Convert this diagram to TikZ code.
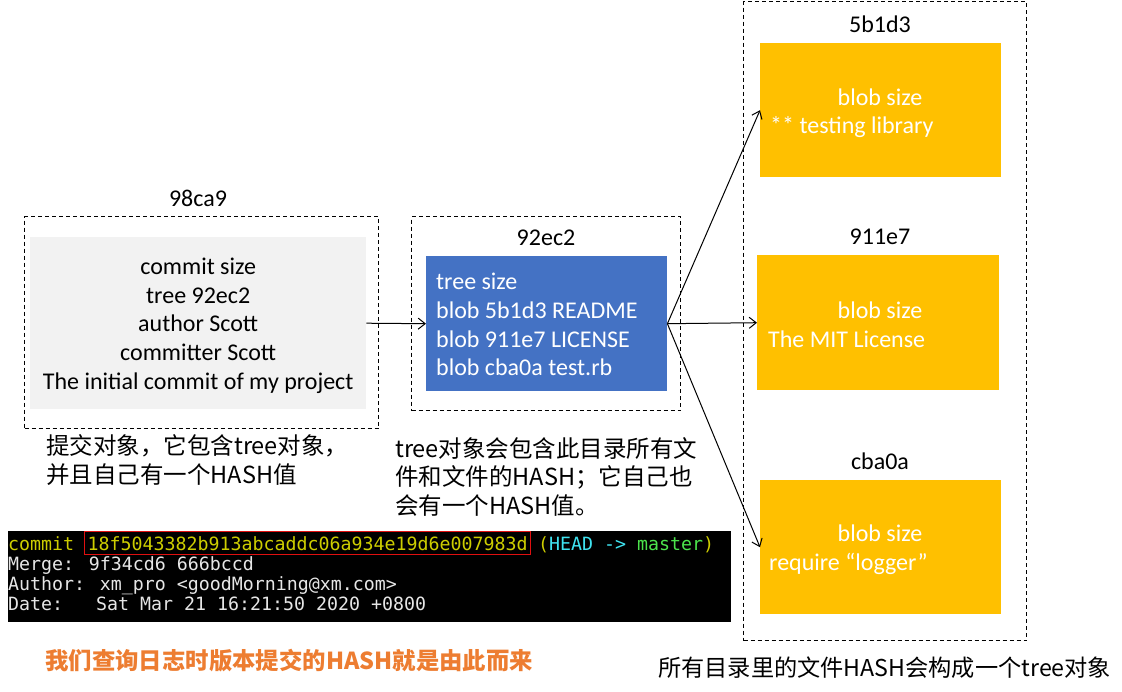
\documentclass[tikz,border=0pt]{standalone}
\usepackage{fontspec}
\setmainfont{Carlito}
\newfontfamily\cjk{Noto Sans CJK SC}
\newfontfamily\term{DejaVu Sans Mono}
\usetikzlibrary{arrows.meta}
\definecolor{grayfill}{HTML}{F2F2F2}
\definecolor{bluefill}{HTML}{4472C4}
\definecolor{yellowfill}{HTML}{FFC000}
\definecolor{orangetxt}{HTML}{ED7D31}
\definecolor{tyellow}{HTML}{CDCD00}
\definecolor{tcyan}{HTML}{3FE3F0}
\definecolor{tgreen}{HTML}{4CE34C}
\definecolor{twhite}{HTML}{E6E6E6}
\definecolor{tred}{HTML}{E01010}
\tikzset{
  dashbox/.style={draw=black, line width=1pt, dash pattern=on 4pt off 3pt, inner sep=0pt, anchor=north west},
  fillbox/.style={inner sep=0pt, anchor=north west},
  lbl/.style={font=\fontsize{24}{29}\selectfont, inner sep=0pt},
  boxtext/.style={font=\fontsize{24}{28.75}\selectfont},
  ytext/.style={font=\fontsize{24}{29}\selectfont, text=white, inner sep=0pt},
  arr/.style={draw=black, line width=1pt, -{Straight Barb[length=7pt,width=11pt]}},
  cn/.style={font=\cjk\fontsize{23.5}{29}\selectfont, inner sep=0pt, align=left, anchor=west},
  termline/.style={font=\term\fontsize{18.27}{20}\selectfont, text=twhite, inner sep=0pt, anchor=base west},
}
\begin{document}
\begin{tikzpicture}[x=1pt,y=-1pt]
\useasboundingbox (0,0) rectangle (1122,691);

% dashed frames
\node[dashbox, minimum width=354pt, minimum height=212pt] (frameA) at (24,216) {};
\node[dashbox, minimum width=269pt, minimum height=194pt] (frameB) at (411,216) {};
\node[dashbox, minimum width=283pt, minimum height=639pt] (frameC) at (743,1) {};

% labels
\node[lbl] (l98) at (198,198) {98ca9};
\node[lbl] (l92) at (546,238) {92ec2};
\node[lbl] (l5b) at (880,24) {5b1d3};
\node[lbl] (l91) at (880,237) {911e7};
\node[lbl] (lcb) at (880,461) {cba0a};

% commit object
\node[fillbox, fill=grayfill, minimum width=336pt, minimum height=172pt] (commitbox) at (30,237) {};
\node[boxtext, align=center, inner sep=0pt] (committxt) at ([yshift=-2.5pt]commitbox.center)
  {commit size\\tree 92ec2\\author Scott\\committer Scott\\The initial commit of my project};

% tree object
\node[fillbox, fill=bluefill, minimum width=241pt, minimum height=135pt] (treebox) at (426,256) {};
\node[boxtext, text=white, align=left, anchor=west, inner sep=0pt] (treetxt) at ([xshift=10pt,yshift=-1pt]treebox.west)
  {tree size\\blob 5b1d3 README\\blob 911e7 LICENSE\\blob cba0a test.rb};

% blobs
\node[fillbox, fill=yellowfill, minimum width=241pt, minimum height=134pt] (blobA) at (760,43) {};
\node[fillbox, fill=yellowfill, minimum width=242pt, minimum height=135pt] (blobB) at (757,255) {};
\node[fillbox, fill=yellowfill, minimum width=241pt, minimum height=134pt] (blobC) at (760,480) {};

\node[ytext] (blobAa) at (880,97) {blob size};
\node[ytext, anchor=west] (blobAb) at (770,127) {** testing library};
\node[ytext] (blobBa) at (880,310) {blob size};
\node[ytext, anchor=west] (blobBb) at (768,339) {The MIT License};
\node[ytext] (blobCa) at (880,533) {blob size};
\node[ytext, anchor=west] (blobCb) at (769,564) {require “logger”};

% arrows
\draw[arr] (commitbox.east) -- (treebox.west);
\draw[arr] (treebox.east) -- (blobA.west);
\draw[arr] (treebox.east) -- (blobB.west);
\draw[arr] (treebox.east) -- (blobC.west);

% annotations
\node[cn] (noteA) at (46,460.5) {提交对象，它包含tree对象，\\并且自己有一个HASH值};
\node[cn, font=\cjk\fontsize{23.5}{28.5}\selectfont] (noteB) at (395,476.5) {tree对象会包含此目录所有文\\件和文件的HASH；它自己也\\会有一个HASH值。};
\node[cn, font=\cjk\fontsize{23.2}{29}\selectfont] (noteC) at (658,668) {所有目录里的文件HASH会构成一个tree对象};
\node[cn, font=\cjk\bfseries\fontsize{23.4}{29}\selectfont, text=orangetxt] (noteD) at (45,661) {我们查询日志时版本提交的HASH就是由此而来};

% terminal
\node[fillbox, fill=black, minimum width=723pt, minimum height=91pt] (termbox) at (8,531) {};
\node[termline, text=tyellow] (t1a) at (8,550) {commit};
\node[termline, text=tyellow, draw=tred, line width=1.3pt, inner xsep=3pt, minimum height=23pt] (t1hash) at (84,550) {18f5043382b913abcaddc06a934e19d6e007983d};
\node[termline] (t1c) at (538,550) {{\color{tyellow}(}{\color{tcyan}HEAD -> }{\color{tgreen}master}{\color{tyellow})}};
\node[termline] (t2) at (8,570) {Merge: 9f34cd6 666bccd};
\node[termline] (t3) at (8,590) {Author: xm\_pro <goodMorning@xm.com>};
\node[termline] (t4) at (8,610) {Date:\ \ \ Sat Mar 21 16:21:50 2020 +0800};
\end{tikzpicture}
\end{document}
